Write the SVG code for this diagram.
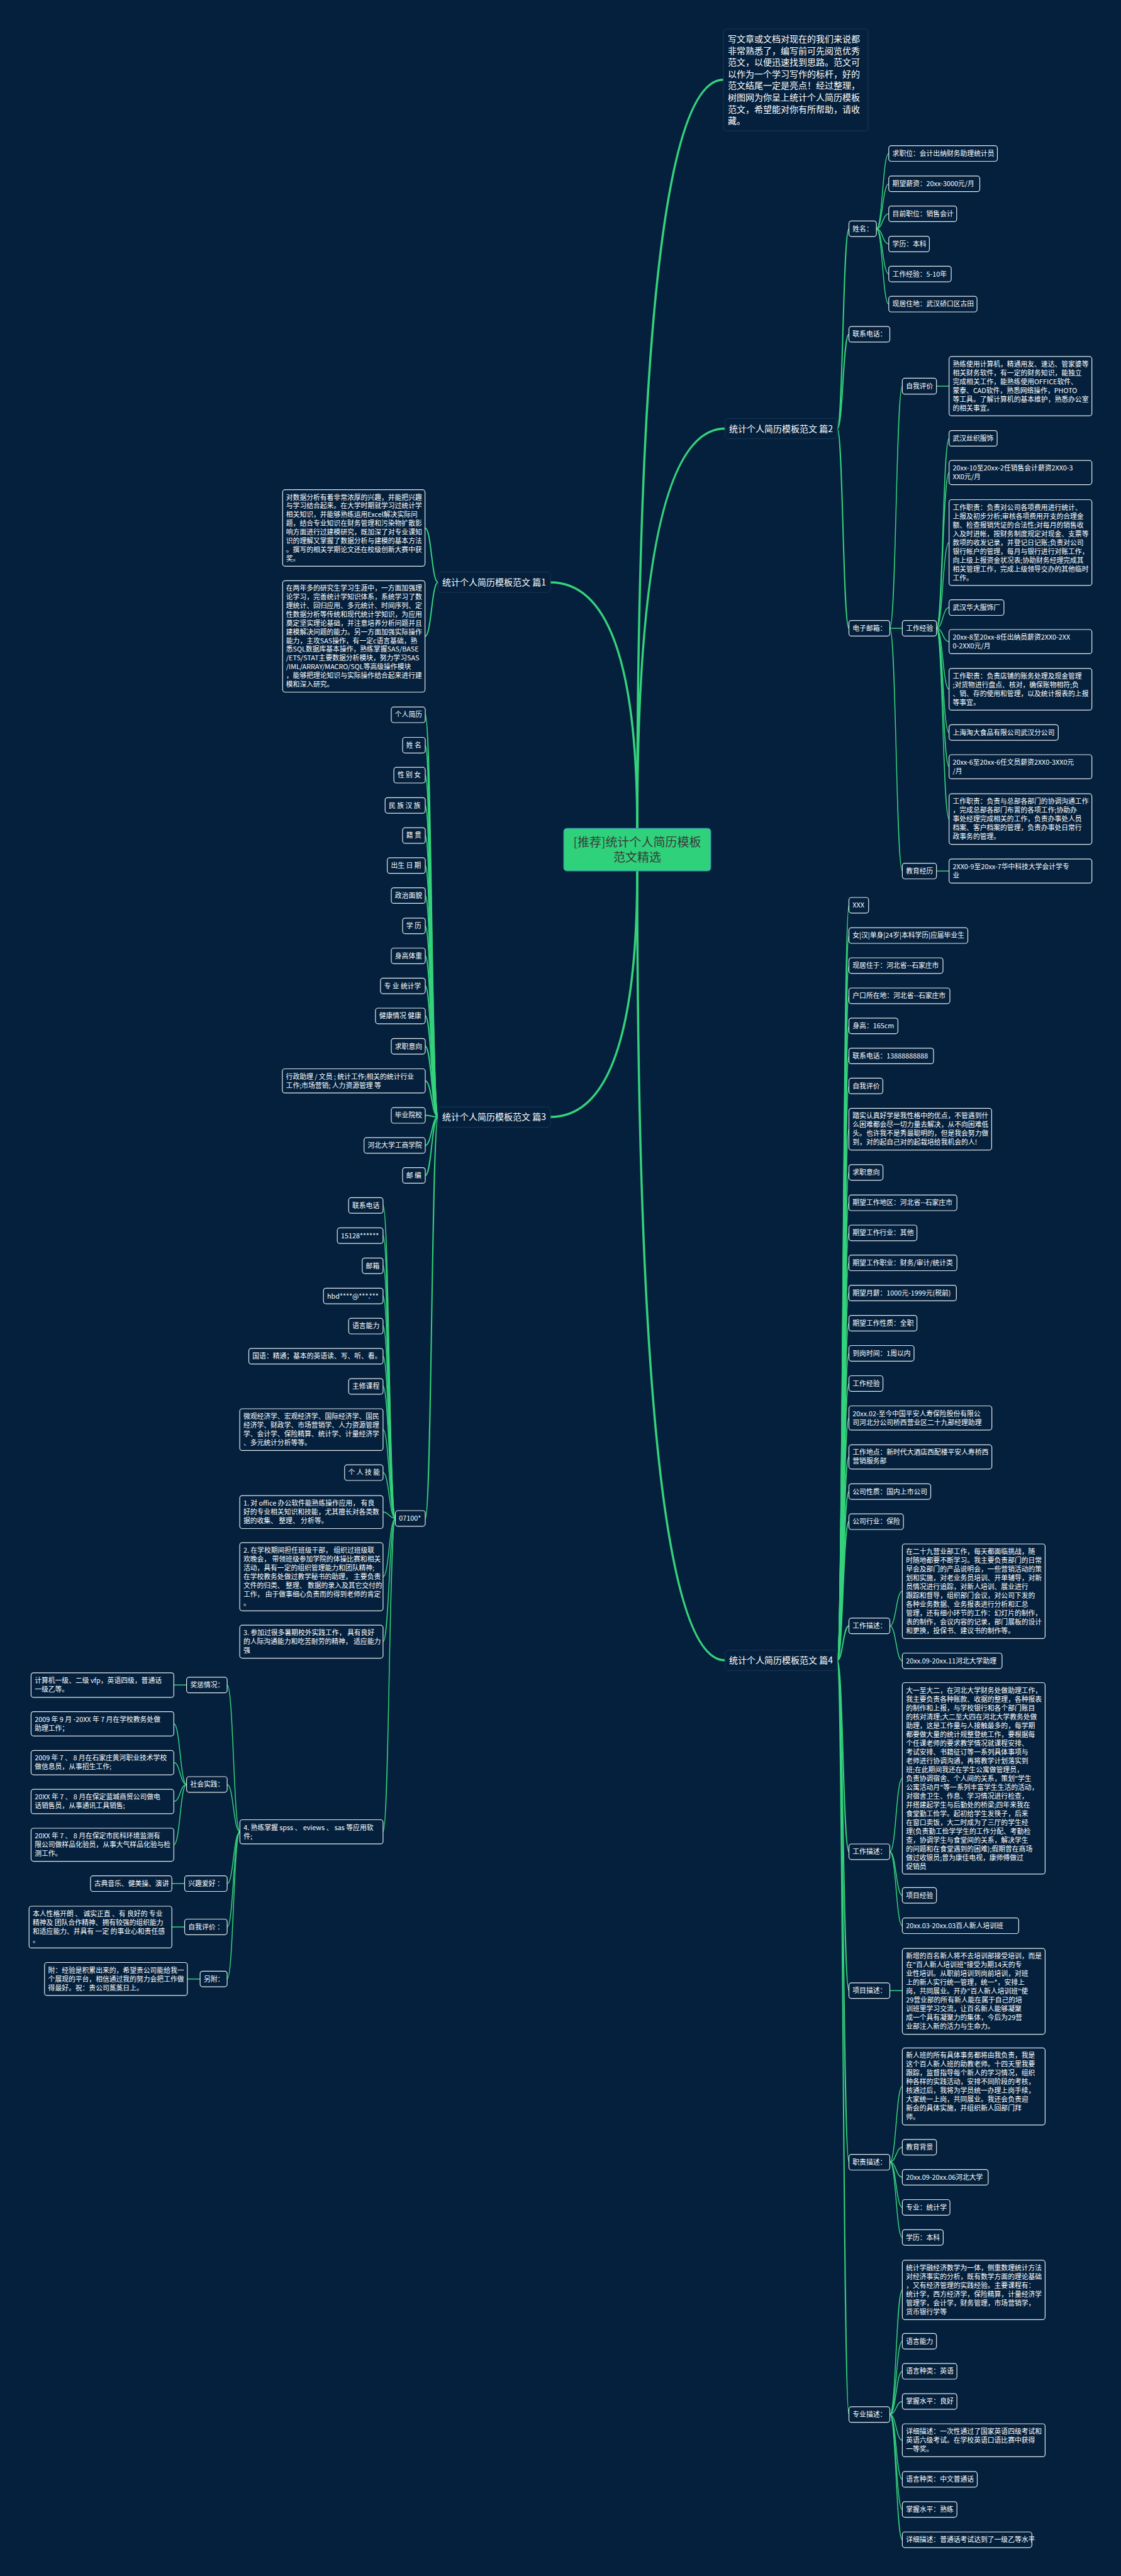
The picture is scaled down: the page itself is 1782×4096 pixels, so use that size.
<svg xmlns="http://www.w3.org/2000/svg" width="1782" height="4096" viewBox="0 0 1782 4096">
<defs><style>
.nd{fill:#04203c;stroke:#e6ebf0;stroke-width:1.2}
.br{fill:#04203c;stroke:#1d3756;stroke-width:1}
.t{font-family:'Noto Sans CJK SC','Noto Sans',sans-serif;fill:#ffffff;font-size:10.8px}
.tb{font-size:14px}
.ln{fill:none;stroke:#35d27c;stroke-linecap:round}
.l1{stroke-width:3.5}.l2{stroke-width:2}.l3{stroke-width:1.5}
</style></defs>
<rect width="1782" height="4096" fill="#04203c"/>
<g id="connectors">
<path class="ln l1" d="M1013 1317 Q1013 126.8 1150 126.8"/>
<path class="ln l1" d="M1013 1317 Q1013 681.5 1152.4 681.5"/>
<path class="ln l1" d="M1013 1317 Q1013 926 875 926"/>
<path class="ln l1" d="M1013 1385 Q1013 1776 875 1776"/>
<path class="ln l1" d="M1013 1385 Q1013 2640 1152.4 2640"/>
<path class="ln l2" d="M696.4 926 C686 926 686 839.5 675.6 839.5"/>
<path class="ln l2" d="M696.4 926 C686 926 686 1011.9 675.6 1011.9"/>
<path class="ln l2" d="M1331 681.5 C1340 681.5 1340 363.7 1349.5 363.7"/>
<path class="ln l2" d="M1331 681.5 C1340 681.5 1340 531.5 1349.5 531.5"/>
<path class="ln l2" d="M1331 681.5 C1340 681.5 1340 999 1349.5 999"/>
<path class="ln l3" d="M1393.2 363.7 C1403 363.7 1403 244.1 1412.8 244.1"/>
<path class="ln l3" d="M1393.2 363.7 C1403 363.7 1403 292.3 1412.8 292.3"/>
<path class="ln l3" d="M1393.2 363.7 C1403 363.7 1403 340 1412.8 340"/>
<path class="ln l3" d="M1393.2 363.7 C1403 363.7 1403 388 1412.8 388"/>
<path class="ln l3" d="M1393.2 363.7 C1403 363.7 1403 435.7 1412.8 435.7"/>
<path class="ln l3" d="M1393.2 363.7 C1403 363.7 1403 483.6 1412.8 483.6"/>
<path class="ln l3" d="M1414.5 999 C1424.5 999 1424.5 614 1434.4 614"/>
<path class="ln l3" d="M1414.5 999 L1434.4 999"/>
<path class="ln l3" d="M1414.5 999 C1424.5 999 1424.5 1385 1434.4 1385"/>
<path class="ln l3" d="M1488.7 614 L1508.7 614"/>
<path class="ln l3" d="M1488.7 1385 L1508.7 1385"/>
<path class="ln l3" d="M1488.7 999 C1498.7 999 1498.7 697 1508.7 697"/>
<path class="ln l3" d="M1488.7 999 C1498.7 999 1498.7 751.4 1508.7 751.4"/>
<path class="ln l3" d="M1488.7 999 C1498.7 999 1498.7 862.7 1508.7 862.7"/>
<path class="ln l3" d="M1488.7 999 C1498.7 999 1498.7 966.1 1508.7 966.1"/>
<path class="ln l3" d="M1488.7 999 C1498.7 999 1498.7 1020.2 1508.7 1020.2"/>
<path class="ln l3" d="M1488.7 999 C1498.7 999 1498.7 1096 1508.7 1096"/>
<path class="ln l3" d="M1488.7 999 C1498.7 999 1498.7 1164.7 1508.7 1164.7"/>
<path class="ln l3" d="M1488.7 999 C1498.7 999 1498.7 1219.2 1508.7 1219.2"/>
<path class="ln l3" d="M1488.7 999 C1498.7 999 1498.7 1302.4 1508.7 1302.4"/>
<path class="ln l2" d="M696.4 1776 C686.2 1776 686.2 1136.6 676 1136.6"/>
<path class="ln l2" d="M696.4 1776 C686.2 1776 686.2 1184.9 676 1184.9"/>
<path class="ln l2" d="M696.4 1776 C686.2 1776 686.2 1232.6 676 1232.6"/>
<path class="ln l2" d="M696.4 1776 C686.2 1776 686.2 1280.7 676 1280.7"/>
<path class="ln l2" d="M696.4 1776 C686.2 1776 686.2 1328.5 676 1328.5"/>
<path class="ln l2" d="M696.4 1776 C686.2 1776 686.2 1376.3 676 1376.3"/>
<path class="ln l2" d="M696.4 1776 C686.2 1776 686.2 1424 676 1424"/>
<path class="ln l2" d="M696.4 1776 C686.2 1776 686.2 1472.2 676 1472.2"/>
<path class="ln l2" d="M696.4 1776 C686.2 1776 686.2 1519.9 676 1519.9"/>
<path class="ln l2" d="M696.4 1776 C686.2 1776 686.2 1567.7 676 1567.7"/>
<path class="ln l2" d="M696.4 1776 C686.2 1776 686.2 1615.4 676 1615.4"/>
<path class="ln l2" d="M696.4 1776 C686.2 1776 686.2 1663.7 676 1663.7"/>
<path class="ln l2" d="M696.4 1776 C686.2 1776 686.2 1718.7 676 1718.7"/>
<path class="ln l2" d="M696.4 1776 C686.2 1776 686.2 1773.6 676 1773.6"/>
<path class="ln l2" d="M696.4 1776 C686.2 1776 686.2 1821.3 676 1821.3"/>
<path class="ln l2" d="M696.4 1776 C686.2 1776 686.2 1869 676 1869"/>
<path class="ln l2" d="M696.4 1776 C686.2 1776 686.2 2414.4 676 2414.4"/>
<path class="ln l3" d="M628.5 2414.4 C618.7 2414.4 618.7 1916.8 608.9 1916.8"/>
<path class="ln l3" d="M628.5 2414.4 C618.7 2414.4 618.7 1964.8 608.9 1964.8"/>
<path class="ln l3" d="M628.5 2414.4 C618.7 2414.4 618.7 2012.7 608.9 2012.7"/>
<path class="ln l3" d="M628.5 2414.4 C618.7 2414.4 618.7 2060.7 608.9 2060.7"/>
<path class="ln l3" d="M628.5 2414.4 C618.7 2414.4 618.7 2108.6 608.9 2108.6"/>
<path class="ln l3" d="M628.5 2414.4 C618.7 2414.4 618.7 2156.5 608.9 2156.5"/>
<path class="ln l3" d="M628.5 2414.4 C618.7 2414.4 618.7 2204.5 608.9 2204.5"/>
<path class="ln l3" d="M628.5 2414.4 C618.7 2414.4 618.7 2273.2 608.9 2273.2"/>
<path class="ln l3" d="M628.5 2414.4 C618.7 2414.4 618.7 2341.6 608.9 2341.6"/>
<path class="ln l3" d="M628.5 2414.4 C618.7 2414.4 618.7 2404.3 608.9 2404.3"/>
<path class="ln l3" d="M628.5 2414.4 C618.7 2414.4 618.7 2507.1 608.9 2507.1"/>
<path class="ln l3" d="M628.5 2414.4 C618.7 2414.4 618.7 2610.4 608.9 2610.4"/>
<path class="ln l3" d="M628.5 2414.4 C618.7 2414.4 618.7 2912.7 608.9 2912.7"/>
<path class="ln l3" d="M381.4 2912.7 C371.2 2912.7 371.2 2679.3 361.1 2679.3"/>
<path class="ln l3" d="M381.4 2912.7 C371.2 2912.7 371.2 2837.4 361.1 2837.4"/>
<path class="ln l3" d="M381.4 2912.7 C371.2 2912.7 371.2 2995.1 361.1 2995.1"/>
<path class="ln l3" d="M381.4 2912.7 C371.2 2912.7 371.2 3063.9 361.1 3063.9"/>
<path class="ln l3" d="M381.4 2912.7 C371.2 2912.7 371.2 3146.7 361.1 3146.7"/>
<path class="ln l3" d="M296.6 2679.3 L276.3 2679.3"/>
<path class="ln l3" d="M296.6 2837.4 C286.4 2837.4 286.4 2740.8 276.3 2740.8"/>
<path class="ln l3" d="M296.6 2837.4 C286.4 2837.4 286.4 2802.6 276.3 2802.6"/>
<path class="ln l3" d="M296.6 2837.4 C286.4 2837.4 286.4 2864.4 276.3 2864.4"/>
<path class="ln l3" d="M296.6 2837.4 C286.4 2837.4 286.4 2933.3 276.3 2933.3"/>
<path class="ln l3" d="M293.5 2995.1 L273.2 2995.1"/>
<path class="ln l3" d="M293.5 3064 L273.2 3064"/>
<path class="ln l3" d="M318.1 3146.7 L297.8 3146.7"/>
<path class="ln l2" d="M1331 2640 C1340 2640 1340 1439.4 1349.5 1439.4"/>
<path class="ln l2" d="M1331 2640 C1340 2640 1340 1487.6 1349.5 1487.6"/>
<path class="ln l2" d="M1331 2640 C1340 2640 1340 1535.4 1349.5 1535.4"/>
<path class="ln l2" d="M1331 2640 C1340 2640 1340 1583.4 1349.5 1583.4"/>
<path class="ln l2" d="M1331 2640 C1340 2640 1340 1631.2 1349.5 1631.2"/>
<path class="ln l2" d="M1331 2640 C1340 2640 1340 1679 1349.5 1679"/>
<path class="ln l2" d="M1331 2640 C1340 2640 1340 1726.8 1349.5 1726.8"/>
<path class="ln l2" d="M1331 2640 C1340 2640 1340 1795.5 1349.5 1795.5"/>
<path class="ln l2" d="M1331 2640 C1340 2640 1340 1864.2 1349.5 1864.2"/>
<path class="ln l2" d="M1331 2640 C1340 2640 1340 1912.6 1349.5 1912.6"/>
<path class="ln l2" d="M1331 2640 C1340 2640 1340 1960.4 1349.5 1960.4"/>
<path class="ln l2" d="M1331 2640 C1340 2640 1340 2008.1 1349.5 2008.1"/>
<path class="ln l2" d="M1331 2640 C1340 2640 1340 2056 1349.5 2056"/>
<path class="ln l2" d="M1331 2640 C1340 2640 1340 2104 1349.5 2104"/>
<path class="ln l2" d="M1331 2640 C1340 2640 1340 2151.9 1349.5 2151.9"/>
<path class="ln l2" d="M1331 2640 C1340 2640 1340 2199.9 1349.5 2199.9"/>
<path class="ln l2" d="M1331 2640 C1340 2640 1340 2254.7 1349.5 2254.7"/>
<path class="ln l2" d="M1331 2640 C1340 2640 1340 2316.6 1349.5 2316.6"/>
<path class="ln l2" d="M1331 2640 C1340 2640 1340 2371.7 1349.5 2371.7"/>
<path class="ln l2" d="M1331 2640 C1340 2640 1340 2419.6 1349.5 2419.6"/>
<path class="ln l2" d="M1331 2640 C1340 2640 1340 2585.3 1349.5 2585.3"/>
<path class="ln l2" d="M1331 2640 C1340 2640 1340 2944.4 1349.5 2944.4"/>
<path class="ln l2" d="M1331 2640 C1340 2640 1340 3165.3 1349.5 3165.3"/>
<path class="ln l2" d="M1331 2640 C1340 2640 1340 3437.7 1349.5 3437.7"/>
<path class="ln l2" d="M1331 2640 C1340 2640 1340 3839 1349.5 3839"/>
<path class="ln l3" d="M1414.5 2585.3 C1424.5 2585.3 1424.5 2530.2 1434.4 2530.2"/>
<path class="ln l3" d="M1414.5 2585.3 C1424.5 2585.3 1424.5 2640.9 1434.4 2640.9"/>
<path class="ln l3" d="M1414.5 2944.4 C1424.5 2944.4 1424.5 2827.7 1434.4 2827.7"/>
<path class="ln l3" d="M1414.5 2944.4 C1424.5 2944.4 1424.5 3013.7 1434.4 3013.7"/>
<path class="ln l3" d="M1414.5 2944.4 C1424.5 2944.4 1424.5 3062.1 1434.4 3062.1"/>
<path class="ln l3" d="M1414.5 3165.3 L1434.4 3165.3"/>
<path class="ln l3" d="M1414.5 3437.7 C1424.5 3437.7 1424.5 3317.6 1434.4 3317.6"/>
<path class="ln l3" d="M1414.5 3437.7 C1424.5 3437.7 1424.5 3414.2 1434.4 3414.2"/>
<path class="ln l3" d="M1414.5 3437.7 C1424.5 3437.7 1424.5 3462 1434.4 3462"/>
<path class="ln l3" d="M1414.5 3437.7 C1424.5 3437.7 1424.5 3509.9 1434.4 3509.9"/>
<path class="ln l3" d="M1414.5 3437.7 C1424.5 3437.7 1424.5 3557.7 1434.4 3557.7"/>
<path class="ln l3" d="M1414.5 3839 C1424.5 3839 1424.5 3641.1 1434.4 3641.1"/>
<path class="ln l3" d="M1414.5 3839 C1424.5 3839 1424.5 3722.7 1434.4 3722.7"/>
<path class="ln l3" d="M1414.5 3839 C1424.5 3839 1424.5 3770.6 1434.4 3770.6"/>
<path class="ln l3" d="M1414.5 3839 C1424.5 3839 1424.5 3818.5 1434.4 3818.5"/>
<path class="ln l3" d="M1414.5 3839 C1424.5 3839 1424.5 3880.2 1434.4 3880.2"/>
<path class="ln l3" d="M1414.5 3839 C1424.5 3839 1424.5 3942.3 1434.4 3942.3"/>
<path class="ln l3" d="M1414.5 3839 C1424.5 3839 1424.5 3990.2 1434.4 3990.2"/>
<path class="ln l3" d="M1414.5 3839 C1424.5 3839 1424.5 4038.4 1434.4 4038.4"/>
</g>

<g id="center"><rect x="896" y="1317" width="234" height="68" rx="5" fill="#2fd27b" stroke="#3a7cc4" stroke-width="1"/>
<text font-family="'Noto Sans CJK SC','Noto Sans',sans-serif" font-size="19" fill="#3a3a3a" text-anchor="middle"><tspan x="1013" y="1345.5">[推荐]统计个人简历模板</tspan><tspan x="1013" y="1369.5">范文精选</tspan></text></g>

<g id="intro"><rect class="br" x="1150" y="46" width="230" height="162" rx="5"/>
<text class="t tb"><tspan x="1157" y="67">写文章或文档对现在的我们来说都</tspan><tspan x="1157" dy="18.6">非常熟悉了，编写前可先阅览优秀</tspan><tspan x="1157" dy="18.6">范文，以便迅速找到思路。范文可</tspan><tspan x="1157" dy="18.6">以作为一个学习写作的标杆，好的</tspan><tspan x="1157" dy="18.6">范文结尾一定是亮点！经过整理，</tspan><tspan x="1157" dy="18.6">树图网为你呈上统计个人简历模板</tspan><tspan x="1157" dy="18.6">范文，希望能对你有所帮助，请收</tspan><tspan x="1157" dy="18.6">藏。</tspan></text></g>

<g id="p1"><rect class="br" x="696.4" y="909.7" width="178.6" height="32.3" rx="5"/><text class="t tb" x="703" y="931">统计个人简历模板范文 篇1</text></g>
<g id="p2"><rect class="br" x="1152.4" y="665.3" width="178.6" height="32.3" rx="5"/><text class="t tb" x="1159" y="686.6">统计个人简历模板范文 篇2</text></g>
<g id="p3"><rect class="br" x="696.4" y="1760" width="178.6" height="32.3" rx="5"/><text class="t tb" x="703" y="1781.3">统计个人简历模板范文 篇3</text></g>
<g id="p4"><rect class="br" x="1152.4" y="2624" width="178.6" height="32.3" rx="5"/><text class="t tb" x="1159" y="2645.3">统计个人简历模板范文 篇4</text></g>

<g id="p1a"><rect class="nd" x="449.3" y="778.7" width="226.3" height="121.6" rx="4"/>
<text class="t"><tspan x="454.8" y="794.5">对数据分析有着非常浓厚的兴趣，并能把兴趣</tspan><tspan x="454.8" dy="13.9">与学习结合起来。在大学时期就学习过统计学</tspan><tspan x="454.8" dy="13.9">相关知识，并能够熟练运用Excel解决实际问</tspan><tspan x="454.8" dy="13.9">题，结合专业知识在财务管理和污染物扩散影</tspan><tspan x="454.8" dy="13.9">响方面进行过建模研究，既加深了对专业课知</tspan><tspan x="454.8" dy="13.9">识的理解又掌握了数据分析与建模的基本方法</tspan><tspan x="454.8" dy="13.9">。撰写的相关学期论文还在校级创新大赛中获</tspan><tspan x="454.8" dy="13.9">奖。</tspan></text></g>
<g id="p1b"><rect class="nd" x="449.3" y="923.3" width="226.3" height="177.2" rx="4"/>
<text class="t"><tspan x="454.8" y="939.1">在两年多的研究生学习生涯中，一方面加强理</tspan><tspan x="454.8" dy="13.9">论学习，完善统计学知识体系，系统学习了数</tspan><tspan x="454.8" dy="13.9">理统计、回归应用、多元统计、时间序列、定</tspan><tspan x="454.8" dy="13.9">性数据分析等传统和现代统计学知识，为应用</tspan><tspan x="454.8" dy="13.9">奠定坚实理论基础，并注意培养分析问题并且</tspan><tspan x="454.8" dy="13.9">建模解决问题的能力。另一方面加强实际操作</tspan><tspan x="454.8" dy="13.9">能力，主攻SAS操作，有一定c语言基础，熟</tspan><tspan x="454.8" dy="13.9">悉SQL数据库基本操作，熟练掌握SAS/BASE</tspan><tspan x="454.8" dy="13.9">/ETS/STAT主要数据分析模块，努力学习SAS</tspan><tspan x="454.8" dy="13.9">/IML/ARRAY/MACRO/SQL等高级操作模块</tspan><tspan x="454.8" dy="13.9">，能够把理论知识与实际操作结合起来进行建</tspan><tspan x="454.8" dy="13.9">模和深入研究。</tspan></text></g>

<g id="p2_name"><rect class="nd" x="1349.5" y="351.3" width="43.7" height="24.8" rx="4"/><text class="t" x="1355.3" y="367.5">姓名：</text></g>
<g id="p2_tel"><rect class="nd" x="1349.5" y="519.1" width="65" height="24.8" rx="4"/><text class="t" x="1355.3" y="535.3">联系电话：</text></g>
<g id="p2_mail"><rect class="nd" x="1349.5" y="986.6" width="65" height="24.8" rx="4"/><text class="t" x="1355.3" y="1002.8">电子邮箱：</text></g>
<g id="p2_a1"><rect class="nd" x="1412.8" y="231.7" width="172.7" height="24.8" rx="4"/><text class="t" x="1418.6" y="247.9">求职位：会计出纳财务助理统计员</text></g>
<g id="p2_a2"><rect class="nd" x="1412.8" y="279.9" width="144.7" height="24.8" rx="4"/><text class="t" x="1418.6" y="296.1">期望薪资：20xx-3000元/月</text></g>
<g id="p2_a3"><rect class="nd" x="1412.8" y="327.6" width="108" height="24.8" rx="4"/><text class="t" x="1418.6" y="343.8">目前职位：销售会计</text></g>
<g id="p2_a4"><rect class="nd" x="1412.8" y="375.6" width="64.6" height="24.8" rx="4"/><text class="t" x="1418.6" y="391.8">学历：本科</text></g>
<g id="p2_a5"><rect class="nd" x="1412.8" y="423.3" width="99.3" height="24.8" rx="4"/><text class="t" x="1418.6" y="439.5">工作经验：5-10年</text></g>
<g id="p2_a6"><rect class="nd" x="1412.8" y="471.2" width="140.3" height="24.8" rx="4"/><text class="t" x="1418.6" y="487.4">现居住地：武汉硚口区古田</text></g>
<g id="p2_self"><rect class="nd" x="1434.4" y="601.4" width="54.3" height="25.3" rx="4"/><text class="t" x="1440.2" y="617.8">自我评价</text></g>
<g id="p2_work"><rect class="nd" x="1434.4" y="986.6" width="54.3" height="24.8" rx="4"/><text class="t" x="1440.2" y="1002.8">工作经验</text></g>
<g id="p2_edu"><rect class="nd" x="1434.4" y="1372.7" width="54.3" height="24.8" rx="4"/><text class="t" x="1440.2" y="1388.9">教育经历</text></g>
<g id="p2_selft"><rect class="nd" x="1508.7" y="566.9" width="227" height="94.3" rx="4"/>
<text class="t"><tspan x="1514.5" y="583">熟练使用计算机，精通用友、速达、管家婆等</tspan><tspan x="1514.5" dy="14">相关财务软件，有一定的财务知识，能独立</tspan><tspan x="1514.5" dy="14">完成相关工作，能熟练使用OFFICE软件、</tspan><tspan x="1514.5" dy="14">蒙泰、CAD软件，熟悉网络操作，PHOTO</tspan><tspan x="1514.5" dy="14">等工具。了解计算机的基本维护，熟悉办公室</tspan><tspan x="1514.5" dy="14">的相关事宜。</tspan></text></g>
<g id="p2_w1"><rect class="nd" x="1508.7" y="684.6" width="76.4" height="24.8" rx="4"/><text class="t" x="1514.5" y="700.8">武汉丝织服饰</text></g>
<g id="p2_w2"><rect class="nd" x="1508.7" y="732.2" width="227" height="38.4" rx="4"/><text class="t"><tspan x="1514.5" y="748.2">20xx-10至20xx-2任销售会计薪资2XX0-3</tspan><tspan x="1514.5" dy="14">XX0元/月</tspan></text></g>
<g id="p2_w3"><rect class="nd" x="1508.7" y="794.5" width="227" height="136.4" rx="4"/><text class="t"><tspan x="1514.5" y="810.5">工作职责：负责对公司各项费用进行统计、</tspan><tspan x="1514.5" dy="14">上报及初步分析;审核各项费用开支的合理金</tspan><tspan x="1514.5" dy="14">额、检查报销凭证的合法性;对每月的销售收</tspan><tspan x="1514.5" dy="14">入及时进帐，按财务制度规定对现金、支票等</tspan><tspan x="1514.5" dy="14">款项的收发记录，并登记日记账;负责对公司</tspan><tspan x="1514.5" dy="14">银行帐户的管理，每月与银行进行对账工作，</tspan><tspan x="1514.5" dy="14">向上级上报资金状况表;协助财务经理完成其</tspan><tspan x="1514.5" dy="14">相关管理工作，完成上级领导交办的其他临时</tspan><tspan x="1514.5" dy="14">工作。</tspan></text></g>
<g id="p2_w4"><rect class="nd" x="1508.7" y="953.7" width="87.2" height="24.8" rx="4"/><text class="t" x="1514.5" y="969.9">武汉华大服饰厂</text></g>
<g id="p2_w5"><rect class="nd" x="1508.7" y="1001" width="227" height="38.4" rx="4"/><text class="t"><tspan x="1514.5" y="1017">20xx-8至20xx-8任出纳员薪资2XX0-2XX</tspan><tspan x="1514.5" dy="14">0-2XX0元/月</tspan></text></g>
<g id="p2_w6"><rect class="nd" x="1508.7" y="1062.8" width="227" height="66.4" rx="4"/><text class="t"><tspan x="1514.5" y="1078.8">工作职责：负责店铺的账务处理及现金管理</tspan><tspan x="1514.5" dy="14">;对货物进行盘点、核对，确保账物相符;负</tspan><tspan x="1514.5" dy="14">、销、存的使用和管理，以及统计报表的上报</tspan><tspan x="1514.5" dy="14">等事宜。</tspan></text></g>
<g id="p2_w7"><rect class="nd" x="1508.7" y="1152.3" width="173.6" height="24.8" rx="4"/><text class="t" x="1514.5" y="1168.5">上海淘大食品有限公司武汉分公司</text></g>
<g id="p2_w8"><rect class="nd" x="1508.7" y="1200" width="227" height="38.4" rx="4"/><text class="t"><tspan x="1514.5" y="1216">20xx-6至20xx-6任文员薪资2XX0-3XX0元</tspan><tspan x="1514.5" dy="14">/月</tspan></text></g>
<g id="p2_w9"><rect class="nd" x="1508.7" y="1262.2" width="227" height="80.4" rx="4"/><text class="t"><tspan x="1514.5" y="1278.2">工作职责：负责与总部各部门的协调沟通工作</tspan><tspan x="1514.5" dy="14">，完成总部各部门布置的各项工作;协助办</tspan><tspan x="1514.5" dy="14">事处经理完成相关的工作，负责办事处人员</tspan><tspan x="1514.5" dy="14">档案、客户档案的管理，负责办事处日常行</tspan><tspan x="1514.5" dy="14">政事务的管理。</tspan></text></g>
<g id="p2_e1"><rect class="nd" x="1508.7" y="1365.8" width="227" height="38.4" rx="4"/><text class="t"><tspan x="1514.5" y="1381.8">2XX0-9至20xx-7华中科技大学会计学专</tspan><tspan x="1514.5" dy="14">业</tspan></text></g>

<g id="p3_1"><rect class="nd" x="622" y="1124.2" width="54" height="24.8" rx="4"/><text class="t" x="627.8" y="1140.4">个人简历</text></g>
<g id="p3_2"><rect class="nd" x="640" y="1172.5" width="36" height="24.8" rx="4"/><text class="t" x="645.8" y="1188.7">姓 名</text></g>
<g id="p3_3"><rect class="nd" x="626.1" y="1220.2" width="49.9" height="24.8" rx="4"/><text class="t" x="631.9" y="1236.4">性 别 女</text></g>
<g id="p3_4"><rect class="nd" x="612.2" y="1268.3" width="63.8" height="24.8" rx="4"/><text class="t" x="618" y="1284.5">民 族 汉 族</text></g>
<g id="p3_5"><rect class="nd" x="640" y="1316.1" width="36" height="24.8" rx="4"/><text class="t" x="645.8" y="1332.3">籍 贯</text></g>
<g id="p3_6"><rect class="nd" x="615.6" y="1363.9" width="60.4" height="24.8" rx="4"/><text class="t" x="621.4" y="1380.1">出生 日 期</text></g>
<g id="p3_7"><rect class="nd" x="622" y="1411.6" width="54" height="24.8" rx="4"/><text class="t" x="627.8" y="1427.8">政治面貌</text></g>
<g id="p3_8"><rect class="nd" x="640" y="1459.8" width="36" height="24.8" rx="4"/><text class="t" x="645.8" y="1476">学 历</text></g>
<g id="p3_9"><rect class="nd" x="622" y="1507.5" width="54" height="24.8" rx="4"/><text class="t" x="627.8" y="1523.7">身高体重</text></g>
<g id="p3_10"><rect class="nd" x="604.8" y="1555.3" width="71.2" height="24.8" rx="4"/><text class="t" x="610.6" y="1571.5">专 业 统计学</text></g>
<g id="p3_11"><rect class="nd" x="596.9" y="1603" width="79.1" height="24.8" rx="4"/><text class="t" x="602.7" y="1619.2">健康情况 健康</text></g>
<g id="p3_12"><rect class="nd" x="622" y="1651.3" width="54" height="24.8" rx="4"/><text class="t" x="627.8" y="1667.5">求职意向</text></g>
<g id="p3_13"><rect class="nd" x="448.8" y="1699.5" width="227.2" height="38.4" rx="4"/><text class="t"><tspan x="454.6" y="1715.5">行政助理 / 文员 ; 统计工作;相关的统计行业</tspan><tspan x="454.6" dy="14">工作;市场营销; 人力资源管理 等</tspan></text></g>
<g id="p3_14"><rect class="nd" x="622" y="1761.2" width="54" height="24.8" rx="4"/><text class="t" x="627.8" y="1777.4">毕业院校</text></g>
<g id="p3_15"><rect class="nd" x="578.7" y="1808.9" width="97.3" height="24.8" rx="4"/><text class="t" x="584.5" y="1825.1">河北大学工商学院</text></g>
<g id="p3_16"><rect class="nd" x="640" y="1856.6" width="36" height="24.8" rx="4"/><text class="t" x="645.8" y="1872.8">邮 编</text></g>
<g id="p3_17"><rect class="nd" x="628.5" y="2402" width="47.5" height="24.8" rx="4"/><text class="t" x="634.3" y="2418.2">07100*</text></g>
<g id="p3_z1"><rect class="nd" x="554.2" y="1904.4" width="54.7" height="24.8" rx="4"/><text class="t" x="560" y="1920.6">联系电话</text></g>
<g id="p3_z2"><rect class="nd" x="536.2" y="1952.4" width="72.7" height="24.8" rx="4"/><text class="t" x="542" y="1968.6">15128******</text></g>
<g id="p3_z3"><rect class="nd" x="575.8" y="2000.3" width="33.1" height="24.8" rx="4"/><text class="t" x="581.6" y="2016.5">邮箱</text></g>
<g id="p3_z4"><rect class="nd" x="514.2" y="2048.3" width="94.7" height="24.8" rx="4"/><text class="t" x="520" y="2064.5">hbd****@***.***</text></g>
<g id="p3_z5"><rect class="nd" x="554.2" y="2096.2" width="54.7" height="24.8" rx="4"/><text class="t" x="560" y="2112.4">语言能力</text></g>
<g id="p3_z6"><rect class="nd" x="395.5" y="2144.1" width="213.4" height="24.8" rx="4"/><text class="t" x="401.3" y="2160.3">国语：精通；基本的英语读、写、听、看。</text></g>
<g id="p3_z7"><rect class="nd" x="554.2" y="2192.1" width="54.7" height="24.8" rx="4"/><text class="t" x="560" y="2208.3">主修课程</text></g>
<g id="p3_z8"><rect class="nd" x="381.1" y="2240" width="227.8" height="66.4" rx="4"/><text class="t"><tspan x="386.9" y="2256">微观经济学、宏观经济学、国际经济学、国民</tspan><tspan x="386.9" dy="14">经济学、财政学、市场营销学、人力资源管理</tspan><tspan x="386.9" dy="14">学、会计学、保险精算、统计学、计量经济学</tspan><tspan x="386.9" dy="14">、多元统计分析等等。</tspan></text></g>
<g id="p3_z9"><rect class="nd" x="547.8" y="2329.2" width="61.1" height="24.8" rx="4"/><text class="t" x="553.6" y="2345.4">个 人 技 能</text></g>
<g id="p3_z10"><rect class="nd" x="381.1" y="2378.1" width="227.8" height="52.4" rx="4"/><text class="t"><tspan x="386.9" y="2394.1">1. 对 office 办公软件能熟练操作应用， 有良</tspan><tspan x="386.9" dy="14">好的专业相关知识和技能，尤其擅长对各类数</tspan><tspan x="386.9" dy="14">据的收集、 整理、 分析等。</tspan></text></g>
<g id="p3_z11"><rect class="nd" x="381.1" y="2452.9" width="227.8" height="108.4" rx="4"/><text class="t"><tspan x="386.9" y="2468.9">2. 在学校期间担任班级干部， 组织过班级联</tspan><tspan x="386.9" dy="14">欢晚会， 带领班级参加学院的体操比赛和相关</tspan><tspan x="386.9" dy="14">活动，具有一定的组织管理能力和团队精神;</tspan><tspan x="386.9" dy="14">在学校教务处做过教学秘书的助理， 主要负责</tspan><tspan x="386.9" dy="14">文件的归类、 整理、 数据的录入及其它交付的</tspan><tspan x="386.9" dy="14">工作， 由于做事细心负责而的得到老师的肯定</tspan><tspan x="386.9" dy="14">。</tspan></text></g>
<g id="p3_z12"><rect class="nd" x="381.1" y="2584.2" width="227.8" height="52.4" rx="4"/><text class="t"><tspan x="386.9" y="2600.2">3. 参加过很多暑期校外实践工作， 具有良好</tspan><tspan x="386.9" dy="14">的人际沟通能力和吃苦耐劳的精神， 适应能力</tspan><tspan x="386.9" dy="14">强</tspan></text></g>
<g id="p3_z13"><rect class="nd" x="381.4" y="2893.5" width="227.5" height="38.4" rx="4"/><text class="t"><tspan x="387.2" y="2909.5">4. 熟练掌握 spss 、 eviews 、 sas 等应用软</tspan><tspan x="387.2" dy="14">件;</tspan></text></g>
<g id="p3_y1"><rect class="nd" x="296.6" y="2666.9" width="64.5" height="24.8" rx="4"/><text class="t" x="302.4" y="2683.1">奖惩情况：</text></g>
<g id="p3_y1a"><rect class="nd" x="49.4" y="2659.8" width="226.9" height="39.1" rx="4"/><text class="t"><tspan x="55.2" y="2675.8">计算机一级、二级 vfp，英语四级，普通话</tspan><tspan x="55.2" dy="14">一级乙等。</tspan></text></g>
<g id="p3_y2"><rect class="nd" x="296.6" y="2825" width="64.5" height="24.8" rx="4"/><text class="t" x="302.4" y="2841.2">社会实践：</text></g>
<g id="p3_y2a"><rect class="nd" x="49.4" y="2721.6" width="226.9" height="38.7" rx="4"/><text class="t"><tspan x="55.2" y="2737.6">2009 年 9 月 -20XX 年 7 月在学校教务处做</tspan><tspan x="55.2" dy="14">助理工作；</tspan></text></g>
<g id="p3_y2b"><rect class="nd" x="49.4" y="2783.4" width="226.9" height="38.7" rx="4"/><text class="t"><tspan x="55.2" y="2799.4">2009 年 7 、 8 月在石家庄黄河职业技术学校</tspan><tspan x="55.2" dy="14">做信息员，从事招生工作;</tspan></text></g>
<g id="p3_y2c"><rect class="nd" x="49.4" y="2845.2" width="226.9" height="38.7" rx="4"/><text class="t"><tspan x="55.2" y="2861.2">20XX 年 7 、 8 月在保定蓝城商贸公司做电</tspan><tspan x="55.2" dy="14">话销售员，从事通讯工具销售;</tspan></text></g>
<g id="p3_y2d"><rect class="nd" x="49.4" y="2907" width="226.9" height="52.6" rx="4"/><text class="t"><tspan x="55.2" y="2923">20XX 年 7 、 8 月在保定市民科环境监测有</tspan><tspan x="55.2" dy="14">限公司做样品化验员，从事大气样品化验与检</tspan><tspan x="55.2" dy="14">测工作。</tspan></text></g>
<g id="p3_y3"><rect class="nd" x="293.5" y="2982.7" width="67.6" height="24.8" rx="4"/><text class="t" x="299.3" y="2998.9">兴趣爱好 ：</text></g>
<g id="p3_y3a"><rect class="nd" x="143.9" y="2982.7" width="129.3" height="24.8" rx="4"/><text class="t" x="149.7" y="2998.9">古典音乐、健美操、演讲</text></g>
<g id="p3_y4"><rect class="nd" x="293.5" y="3051.5" width="67.6" height="24.8" rx="4"/><text class="t" x="299.3" y="3067.7">自我评价 ：</text></g>
<g id="p3_y4a"><rect class="nd" x="46.2" y="3031" width="227" height="66.4" rx="4"/><text class="t"><tspan x="52" y="3047">本人性格开朗 、 诚实正直 、有 良好的 专业</tspan><tspan x="52" dy="14">精神及 团队合作精神、拥有较强的组织能力</tspan><tspan x="52" dy="14">和适应能力、并具有 一定 的事业心和责任感</tspan><tspan x="52" dy="14">。</tspan></text></g>
<g id="p3_y5"><rect class="nd" x="318.1" y="3134.3" width="43" height="24.8" rx="4"/><text class="t" x="323.9" y="3150.5">另附：</text></g>
<g id="p3_y5a"><rect class="nd" x="70.8" y="3120.5" width="227" height="52.4" rx="4"/><text class="t"><tspan x="76.6" y="3136.5">附：经验是积累出来的，希望贵公司能给我一</tspan><tspan x="76.6" dy="14">个展现的平台，相信通过我的努力会把工作做</tspan><tspan x="76.6" dy="14">得最好。祝：贵公司蒸蒸日上。</tspan></text></g>

<g id="p4_1"><rect class="nd" x="1349.5" y="1427" width="31.3" height="24.8" rx="4"/><text class="t" x="1355.3" y="1443.2">XXX</text></g>
<g id="p4_2"><rect class="nd" x="1349.5" y="1475.2" width="189" height="24.8" rx="4"/><text class="t" x="1355.3" y="1491.4">女|汉|单身|24岁|本科学历|应届毕业生</text></g>
<g id="p4_3"><rect class="nd" x="1349.5" y="1523" width="149.5" height="24.8" rx="4"/><text class="t" x="1355.3" y="1539.2">现居住于：河北省--石家庄市</text></g>
<g id="p4_4"><rect class="nd" x="1349.5" y="1571" width="160.5" height="24.8" rx="4"/><text class="t" x="1355.3" y="1587.2">户口所在地：河北省--石家庄市</text></g>
<g id="p4_5"><rect class="nd" x="1349.5" y="1618.8" width="77.9" height="24.8" rx="4"/><text class="t" x="1355.3" y="1635">身高：165cm</text></g>
<g id="p4_6"><rect class="nd" x="1349.5" y="1666.6" width="134.5" height="24.8" rx="4"/><text class="t" x="1355.3" y="1682.8">联系电话：13888888888</text></g>
<g id="p4_7"><rect class="nd" x="1349.5" y="1714.4" width="53.9" height="24.8" rx="4"/><text class="t" x="1355.3" y="1730.6">自我评价</text></g>
<g id="p4_8"><rect class="nd" x="1349.5" y="1762.3" width="226.9" height="66.4" rx="4"/><text class="t"><tspan x="1355.3" y="1778.3">踏实认真好学是我性格中的优点，不管遇到什</tspan><tspan x="1355.3" dy="14">么困难都会尽一切力量去解决，从不向困难低</tspan><tspan x="1355.3" dy="14">头。也许我不是秀最聪明的，但是我会努力做</tspan><tspan x="1355.3" dy="14">到，对的起自己对的起栽培给我机会的人!</tspan></text></g>
<g id="p4_9"><rect class="nd" x="1349.5" y="1851.8" width="54.1" height="24.8" rx="4"/><text class="t" x="1355.3" y="1868">求职意向</text></g>
<g id="p4_10"><rect class="nd" x="1349.5" y="1900.2" width="171.7" height="24.8" rx="4"/><text class="t" x="1355.3" y="1916.4">期望工作地区：河北省--石家庄市</text></g>
<g id="p4_11"><rect class="nd" x="1349.5" y="1948" width="108.1" height="24.8" rx="4"/><text class="t" x="1355.3" y="1964.2">期望工作行业：其他</text></g>
<g id="p4_12"><rect class="nd" x="1349.5" y="1995.7" width="171.7" height="24.8" rx="4"/><text class="t" x="1355.3" y="2011.9">期望工作职业：财务/审计/统计类</text></g>
<g id="p4_13"><rect class="nd" x="1349.5" y="2043.6" width="170.8" height="24.8" rx="4"/><text class="t" x="1355.3" y="2059.8">期望月薪：1000元-1999元(税前)</text></g>
<g id="p4_14"><rect class="nd" x="1349.5" y="2091.6" width="108.1" height="24.8" rx="4"/><text class="t" x="1355.3" y="2107.8">期望工作性质：全职</text></g>
<g id="p4_15"><rect class="nd" x="1349.5" y="2139.5" width="103.5" height="24.8" rx="4"/><text class="t" x="1355.3" y="2155.7">到岗时间：1周以内</text></g>
<g id="p4_16"><rect class="nd" x="1349.5" y="2187.5" width="54.1" height="24.8" rx="4"/><text class="t" x="1355.3" y="2203.7">工作经验</text></g>
<g id="p4_17"><rect class="nd" x="1349.5" y="2235.5" width="227.2" height="38.4" rx="4"/><text class="t"><tspan x="1355.3" y="2251.5">20xx.02-至今中国平安人寿保险股份有限公</tspan><tspan x="1355.3" dy="14">司河北分公司桥西营业区二十九部经理助理</tspan></text></g>
<g id="p4_18"><rect class="nd" x="1349.5" y="2297.4" width="227.2" height="38.4" rx="4"/><text class="t"><tspan x="1355.3" y="2313.4">工作地点：新时代大酒店西配楼平安人寿桥西</tspan><tspan x="1355.3" dy="14">营销服务部</tspan></text></g>
<g id="p4_19"><rect class="nd" x="1349.5" y="2359.3" width="130" height="24.8" rx="4"/><text class="t" x="1355.3" y="2375.5">公司性质：国内上市公司</text></g>
<g id="p4_20"><rect class="nd" x="1349.5" y="2407.2" width="86.6" height="24.8" rx="4"/><text class="t" x="1355.3" y="2423.4">公司行业：保险</text></g>
<g id="p4_21"><rect class="nd" x="1349.5" y="2572.9" width="65" height="24.8" rx="4"/><text class="t" x="1355.3" y="2589.1">工作描述：</text></g>
<g id="p4_21a"><rect class="nd" x="1434.4" y="2455" width="227" height="150.4" rx="4"/><text class="t"><tspan x="1440.2" y="2471">在二十九营业部工作，每天都面临挑战，随</tspan><tspan x="1440.2" dy="14">时随地都要不断学习。我主要负责部门的日常</tspan><tspan x="1440.2" dy="14">早会及部门的产品说明会，一些营销活动的策</tspan><tspan x="1440.2" dy="14">划和实施，对老业务员培训、开单辅导，对新</tspan><tspan x="1440.2" dy="14">员情况进行追踪，对新人培训、展业进行</tspan><tspan x="1440.2" dy="14">跟踪和督导，组织部门会议，对公司下发的</tspan><tspan x="1440.2" dy="14">各种业务数据、业务报表进行分析和汇总</tspan><tspan x="1440.2" dy="14">管理，还有细小环节的工作：幻灯片的制作，</tspan><tspan x="1440.2" dy="14">表的制作，会议内容的记录，部门展板的设计</tspan><tspan x="1440.2" dy="14">和更换，投保书、建议书的制作等。</tspan></text></g>
<g id="p4_21b"><rect class="nd" x="1434.4" y="2628.5" width="158.5" height="24.8" rx="4"/><text class="t" x="1440.2" y="2644.7">20xx.09-20xx.11河北大学助理</text></g>
<g id="p4_22"><rect class="nd" x="1349.5" y="2932" width="65" height="24.8" rx="4"/><text class="t" x="1355.3" y="2948.2">工作描述：</text></g>
<g id="p4_22a"><rect class="nd" x="1434.4" y="2675.5" width="227" height="304.4" rx="4"/><text class="t"><tspan x="1440.2" y="2691.5">大一至大二，在河北大学财务处做助理工作，</tspan><tspan x="1440.2" dy="14">我主要负责各种账款、收据的整理，各种报表</tspan><tspan x="1440.2" dy="14">的制作和上报，与学校银行和各个部门账目</tspan><tspan x="1440.2" dy="14">的核对清理;大二至大四在河北大学教务处做</tspan><tspan x="1440.2" dy="14">助理，这是工作量与人接触最多的，每学期</tspan><tspan x="1440.2" dy="14">都要做大量的统计规整登统工作，要根据每</tspan><tspan x="1440.2" dy="14">个任课老师的要求教学情况就课程安排、</tspan><tspan x="1440.2" dy="14">考试安排、书籍征订等一系列具体事项与</tspan><tspan x="1440.2" dy="14">老师进行协调沟通，再将教学计划落实到</tspan><tspan x="1440.2" dy="14">班;在此期间我还在学生公寓做管理员，</tspan><tspan x="1440.2" dy="14">负责协调宿舍、个人间的关系，策划"学生</tspan><tspan x="1440.2" dy="14">公寓活动月"等一系列丰富学生生活的活动，</tspan><tspan x="1440.2" dy="14">对宿舍卫生、作息、学习情况进行检查，</tspan><tspan x="1440.2" dy="14">并搭建起学生与后勤处的桥梁;四年来我在</tspan><tspan x="1440.2" dy="14">食堂勤工俭学。起初给学生发筷子，后来</tspan><tspan x="1440.2" dy="14">在窗口卖饭，大二时成为了三厅的学生经</tspan><tspan x="1440.2" dy="14">理(负责勤工俭学学生的工作分配、考勤检</tspan><tspan x="1440.2" dy="14">查，协调学生与食堂间的关系，解决学生</tspan><tspan x="1440.2" dy="14">的问题和在食堂遇到的困难);假期曾在商场</tspan><tspan x="1440.2" dy="14">做过收银员;曾为康佳电视，康师傅做过</tspan><tspan x="1440.2" dy="14">促销员</tspan></text></g>
<g id="p4_22b"><rect class="nd" x="1434.4" y="3001.3" width="54.3" height="24.8" rx="4"/><text class="t" x="1440.2" y="3017.5">项目经验</text></g>
<g id="p4_22c"><rect class="nd" x="1434.4" y="3049.7" width="185" height="24.8" rx="4"/><text class="t" x="1440.2" y="3065.9">20xx.03-20xx.03百人新人培训班</text></g>
<g id="p4_23"><rect class="nd" x="1349.5" y="3152.9" width="65" height="24.8" rx="4"/><text class="t" x="1355.3" y="3169.1">项目描述：</text></g>
<g id="p4_23a"><rect class="nd" x="1434.4" y="3098.2" width="227" height="136.4" rx="4"/><text class="t"><tspan x="1440.2" y="3114.2">新增的百名新人将不去培训部接受培训，而是</tspan><tspan x="1440.2" dy="14">在"百人新人培训班"接受为期14天的专</tspan><tspan x="1440.2" dy="14">业性培训。从职前培训到岗前培训，对班</tspan><tspan x="1440.2" dy="14">上的新人实行统一管理，统一*，安排上</tspan><tspan x="1440.2" dy="14">岗，共同展业。开办"百人新人培训班"使</tspan><tspan x="1440.2" dy="14">29营业部的所有新人能在属于自己的培</tspan><tspan x="1440.2" dy="14">训班里学习交流，让百名新人能够凝聚</tspan><tspan x="1440.2" dy="14">成一个具有凝聚力的集体，今后为29营</tspan><tspan x="1440.2" dy="14">业部注入新的活力与生命力。</tspan></text></g>
<g id="p4_24"><rect class="nd" x="1349.5" y="3425.7" width="65" height="24.8" rx="4"/><text class="t" x="1355.3" y="3441.9">职责描述：</text></g>
<g id="p4_24a"><rect class="nd" x="1434.4" y="3256.4" width="227" height="122.4" rx="4"/><text class="t"><tspan x="1440.2" y="3272.4">新人班的所有具体事务都将由我负责，我是</tspan><tspan x="1440.2" dy="14">这个百人新人班的助教老师。十四天里我要</tspan><tspan x="1440.2" dy="14">跟踪，监督指导每个新人的学习情况，组织</tspan><tspan x="1440.2" dy="14">种各样的实践活动，安排不同阶段的考核，</tspan><tspan x="1440.2" dy="14">核通过后，我将为学员统一办理上岗手续，</tspan><tspan x="1440.2" dy="14">大家统一上岗，共同展业。我还会负责迎</tspan><tspan x="1440.2" dy="14">新会的具体实施，并组织新人回部门拜</tspan><tspan x="1440.2" dy="14">师。</tspan></text></g>
<g id="p4_24b"><rect class="nd" x="1434.4" y="3401.8" width="54.3" height="24.8" rx="4"/><text class="t" x="1440.2" y="3418">教育背景</text></g>
<g id="p4_24c"><rect class="nd" x="1434.4" y="3449.6" width="136.5" height="24.8" rx="4"/><text class="t" x="1440.2" y="3465.8">20xx.09-20xx.06河北大学</text></g>
<g id="p4_24d"><rect class="nd" x="1434.4" y="3497.5" width="75.7" height="24.8" rx="4"/><text class="t" x="1440.2" y="3513.7">专业：统计学</text></g>
<g id="p4_24e"><rect class="nd" x="1434.4" y="3545.3" width="65" height="24.8" rx="4"/><text class="t" x="1440.2" y="3561.5">学历：本科</text></g>
<g id="p4_25"><rect class="nd" x="1349.5" y="3826.9" width="65" height="24.8" rx="4"/><text class="t" x="1355.3" y="3843.1">专业描述：</text></g>
<g id="p4_25a"><rect class="nd" x="1434.4" y="3593.9" width="227" height="94.4" rx="4"/><text class="t"><tspan x="1440.2" y="3609.9">统计学融经济数学为一体，侧重数理统计方法</tspan><tspan x="1440.2" dy="14">对经济事实的分析，既有数学方面的理论基础</tspan><tspan x="1440.2" dy="14">，又有经济管理的实践经验。主要课程有：</tspan><tspan x="1440.2" dy="14">统计学，西方经济学，保险精算，计量经济学</tspan><tspan x="1440.2" dy="14">管理学，会计学，财务管理，市场营销学，</tspan><tspan x="1440.2" dy="14">货币银行学等</tspan></text></g>
<g id="p4_25b"><rect class="nd" x="1434.4" y="3710.3" width="54.3" height="24.8" rx="4"/><text class="t" x="1440.2" y="3726.5">语言能力</text></g>
<g id="p4_25c"><rect class="nd" x="1434.4" y="3758.2" width="86.8" height="24.8" rx="4"/><text class="t" x="1440.2" y="3774.4">语言种类：英语</text></g>
<g id="p4_25d"><rect class="nd" x="1434.4" y="3806.1" width="86.8" height="24.8" rx="4"/><text class="t" x="1440.2" y="3822.3">掌握水平：良好</text></g>
<g id="p4_25e"><rect class="nd" x="1434.4" y="3854" width="227" height="52.4" rx="4"/><text class="t"><tspan x="1440.2" y="3870">详细描述：一次性通过了国家英语四级考试和</tspan><tspan x="1440.2" dy="14">英语六级考试。在学校英语口语比赛中获得</tspan><tspan x="1440.2" dy="14">一等奖。</tspan></text></g>
<g id="p4_25f"><rect class="nd" x="1434.4" y="3929.9" width="119.1" height="24.8" rx="4"/><text class="t" x="1440.2" y="3946.1">语言种类：中文普通话</text></g>
<g id="p4_25g"><rect class="nd" x="1434.4" y="3977.8" width="86.8" height="24.8" rx="4"/><text class="t" x="1440.2" y="3994">掌握水平：熟练</text></g>
<g id="p4_25h"><rect class="nd" x="1434.4" y="4026" width="206" height="24.8" rx="4"/><text class="t" x="1440.2" y="4042.2">详细描述：普通话考试达到了一级乙等水平</text></g>
</svg>
